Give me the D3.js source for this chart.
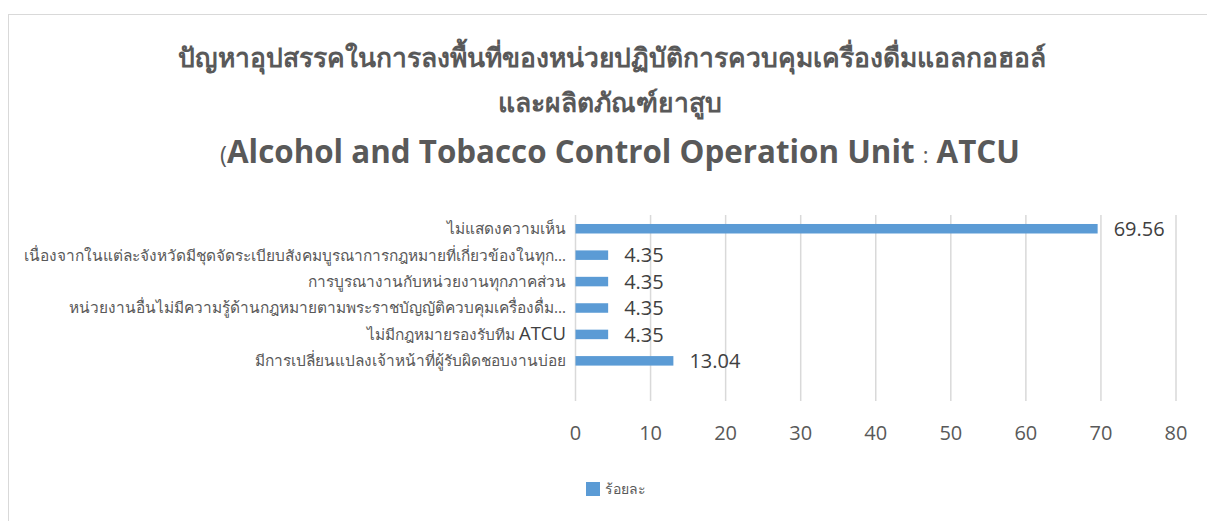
<!DOCTYPE html>
<html>
<head>
<meta charset="utf-8">
<script src="https://cdn.jsdelivr.net/npm/d3@7"></script>
<style>
  body { margin: 0; background: #fff; }
  text { font-family: "Open Sans", "Noto Sans", sans-serif; }
</style>
</head>
<body>
<div id="chart"></div>
<script>
(function () {

    // categories top -> bottom, the last one is an empty row like in the sheet
    var categories = [
        "ไม่แสดงความเห็น",
        "เนื่องจากในแต่ละจังหวัดมีชุดจัดระเบียบสังคมบูรณาการกฎหมายที่เกี่ยวข้องในทุก…",
        "การบูรณางานกับหน่วยงานทุกภาคส่วน",
        "หน่วยงานอื่นไม่มีความรู้ด้านกฎหมายตามพระราชบัญญัติควบคุมเครื่องดื่ม…",
        "ไม่มีกฎหมายรองรับทีม ATCU",
        "มีการเปลี่ยนแปลงเจ้าหน้าที่ผู้รับผิดชอบงานบ่อย",
        ""
    ];
    var values = [69.56, 4.35, 4.35, 4.35, 4.35, 13.04, null];
    var value_labels = ["69.56", "4.35", "4.35", "4.35", "4.35", "13.04", ""];
    var x_ticks = [0, 10, 20, 30, 40, 50, 60, 70, 80];
    var series_name = "ร้อยละ";
    var title_lines = [
        "ปัญหาอุปสรรคในการลงพื้นที่ของหน่วยปฏิบัติการควบคุมเครื่องดื่มแอลกอฮอล์",
        "และผลิตภัณฑ์ยาสูบ"
    ];

    var width = 1207, height = 521;
    var bar_color = "#5b9bd5";

    var svg = d3.select("#chart").append("svg")
        .attr("width", width)
        .attr("height", height);

    // shrink/grow a text node's font so it spans roughly w pixels
    function fitWidth(sel, w) {
        sel.each(function () {
            var node = this;
            var fs = parseFloat(d3.select(node).style("font-size"));
            var len = node.getComputedTextLength();
            if (len > 0) d3.select(node).style("font-size", (fs * w / len).toFixed(2) + "px");
        });
    }

    // chart frame
    svg.append("rect")
        .attr("x", 8.5).attr("y", 14.5)
        .attr("width", 1220).attr("height", 530)
        .attr("fill", "none")
        .attr("stroke", "#d9d9d9");

    var title = svg.append("g").attr("text-anchor", "middle")
        .attr("fill", "#595959").style("font-weight", "bold");

    var t1 = title.append("text").attr("x", 612).attr("y", 67)
        .style("font-size", "24px").text(title_lines[0]);
    fitWidth(t1, 866);
    var t2 = title.append("text").attr("x", 610).attr("y", 112)
        .style("font-size", "24px").text(title_lines[1]);
    fitWidth(t2, 224);

    var t3 = title.append("text").attr("x", 620).attr("y", 163).style("font-size", "28px");
    t3.append("tspan").style("font-weight", "normal").style("font-size", "0.75em").text("(");
    t3.append("tspan").text("Alcohol and Tobacco Control Operation Unit ");
    t3.append("tspan").style("font-weight", "normal").style("font-size", "0.7em").text(":");
    t3.append("tspan").text(" ATCU");
    fitWidth(t3, 800);

    var x = d3.scaleLinear().domain([0, 80]).range([575.5, 1176]);
    var y = d3.scaleBand().domain(d3.range(categories.length))
        .range([215, 401]).paddingInner(0.64).paddingOuter(0.34);

    // vertical gridlines
    svg.append("g")
        .selectAll("line")
        .data(x_ticks)
        .enter()
        .append("line")
        .attr("x1", function (d) { return x(d); })
        .attr("x2", function (d) { return x(d); })
        .attr("y1", 215)
        .attr("y2", 401)
        .attr("stroke", "#d9d9d9")
        .attr("stroke-width", 1.5);

    // x tick labels
    svg.append("g")
        .selectAll("text")
        .data(x_ticks)
        .enter()
        .append("text")
        .attr("x", function (d) { return x(d); })
        .attr("y", 440)
        .attr("text-anchor", "middle")
        .attr("fill", "#595959")
        .style("font-size", "20px")
        .text(function (d) { return d; });

    // category labels, latin words come out a bit larger like in the sheet
    var cat = svg.append("g")
        .selectAll("text")
        .data(categories)
        .enter()
        .append("text")
        .attr("x", 566)
        .attr("y", function (d, i) { return y(i) + y.bandwidth() / 2; })
        .attr("dy", "0.35em")
        .attr("text-anchor", "end")
        .attr("fill", "#595959")
        .style("font-size", "15px");

    cat.each(function (d) {
        var el = d3.select(this);
        d.split(/([A-Za-z]+)/).forEach(function (part) {
            if (!part) return;
            var ts = el.append("tspan").text(part);
            if (/^[A-Za-z]+$/.test(part)) ts.style("font-size", "1.2em").attr("fill", "#404040");
        });
    });

    // size every label like the longest one, which spans ~541px
    var longest = cat.filter(function (d, i) { return i === 1; });
    fitWidth(longest, 541);
    cat.style("font-size", longest.style("font-size"));

    var rows = values.map(function (v, i) { return { v: v, i: i, label: value_labels[i] }; })
        .filter(function (d) { return d.v !== null; });

    svg.append("g")
        .selectAll("rect")
        .data(rows)
        .enter()
        .append("rect")
        .attr("x", x(0))
        .attr("y", function (d) { return y(d.i); })
        .attr("width", function (d) { return x(d.v) - x(0); })
        .attr("height", y.bandwidth())
        .attr("fill", bar_color);

    svg.append("g")
        .selectAll("text")
        .data(rows)
        .enter()
        .append("text")
        .attr("x", function (d) { return x(d.v) + 16; })
        .attr("y", function (d) { return y(d.i) + y.bandwidth() / 2; })
        .attr("dy", "0.36em")
        .attr("fill", "#404040")
        .style("font-size", "20px")
        .text(function (d) { return d.label; });

    // legend
    var legend = svg.append("g");
    legend.append("rect")
        .attr("x", 586).attr("y", 482)
        .attr("width", 14).attr("height", 14)
        .attr("fill", bar_color);
    legend.append("text")
        .attr("x", 605).attr("y", 489)
        .attr("dy", "0.35em")
        .attr("fill", "#595959")
        .style("font-size", "14px")
        .text(series_name);
})();
</script>
</body>
</html>
